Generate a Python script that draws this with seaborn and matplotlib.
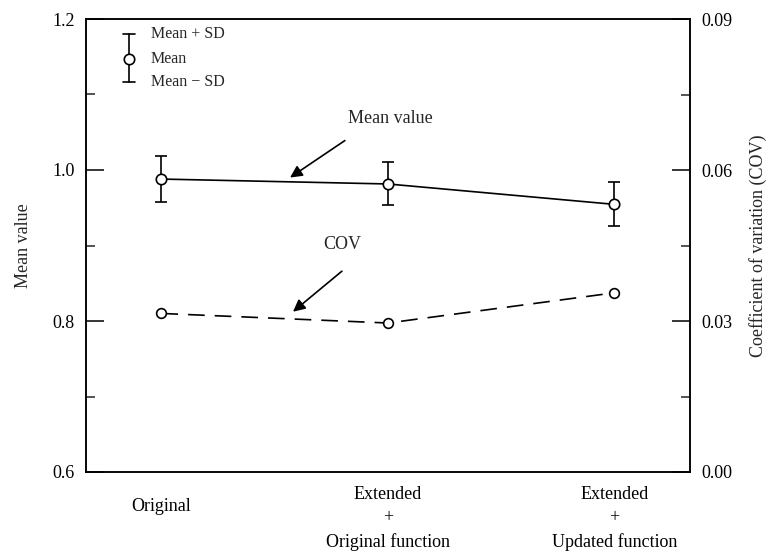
import matplotlib
matplotlib.use("Agg")
import matplotlib.pyplot as plt
import matplotlib.transforms as mtransforms
from matplotlib.lines import Line2D
from matplotlib.ticker import FixedLocator, FormatStrFormatter
import numpy as np
import pandas as pd
import seaborn as sns

# Data
cases = ["Original", "Extended\n+\nOriginal function", "Extended\n+\nUpdated function"]
mean_vals = [0.988, 0.9815, 0.9545]
sd_vals = [0.031, 0.0285, 0.029]
cov_vals = [0.0315, 0.0296, 0.0356]

sns.set_theme(style="white")
plt.rcParams["font.family"] = ["Liberation Serif", "DejaVu Serif"]

df = pd.DataFrame({"pos": np.arange(len(cases)), "mean": mean_vals,
                   "sd": sd_vals, "cov": cov_vals})

fig = plt.figure(figsize=(7.77, 5.58), dpi=100)
ax = fig.add_axes([86 / 777, 86 / 558, 604 / 777, 453 / 558])
ax2 = ax.twinx()

lw = 1.2
# Mean value with SD error bars
ax.errorbar(df["pos"], df["mean"], yerr=df["sd"], fmt="none", ecolor="black",
            elinewidth=lw, capsize=4.5, capthick=lw, zorder=2)
sns.lineplot(data=df, x="pos", y="mean", ax=ax, color="black", lw=lw,
             marker="o", markersize=7.5, markerfacecolor="white",
             markeredgecolor="black", markeredgewidth=lw, zorder=3)

# Coefficient of variation on the secondary axis
sns.lineplot(data=df, x="pos", y="cov", ax=ax2, color="black", lw=lw,
             marker="o", markersize=7, markerfacecolor="white",
             markeredgecolor="black", markeredgewidth=lw, zorder=3)
ax2.lines[0].set_dashes((10, 6))

# Axes limits and ticks
ax.set_xlim(-0.333, 2.334)
ax.set_ylim(0.6, 1.2)
ax2.set_ylim(0.0, 0.09)
ax.set_xticks(df["pos"])
ax.set_xticklabels(cases, fontsize=13, linespacing=1.5)
ax.yaxis.set_major_locator(FixedLocator([0.6, 0.8, 1.0, 1.2]))
ax.yaxis.set_minor_locator(FixedLocator([0.7, 0.9, 1.1]))
ax.yaxis.set_major_formatter(FormatStrFormatter("%.1f"))
ax2.yaxis.set_major_locator(FixedLocator([0.0, 0.03, 0.06, 0.09]))
ax2.yaxis.set_minor_locator(FixedLocator([0.015, 0.045, 0.075]))
ax2.yaxis.set_major_formatter(FormatStrFormatter("%.2f"))

for a in (ax, ax2):
    for s in a.spines.values():
        s.set_color("black")
        s.set_linewidth(1.1)
    a.tick_params(axis="both", which="major", direction="in", length=13.3,
                  width=1.1, labelsize=13, colors="black", pad=8)
    a.tick_params(axis="y", which="minor", direction="in", length=6.5,
                  width=1.1)
ax.tick_params(axis="x", which="major", length=12, pad=10, top=False)
ax2.tick_params(axis="x", which="both", bottom=False, top=False)
ax.tick_params(axis="y", right=False, which="both", left=True)
ax2.tick_params(axis="y", left=False, which="both", right=True)

# Single-line category label sits half a line lower than the stacked ones
lab0 = ax.get_xticklabels()[0]
lab0.set_transform(lab0.get_transform() +
                   mtransforms.ScaledTranslation(0, -9 / 72, fig.dpi_scale_trans))

ax.set_xlabel("")
ax.set_ylabel("Mean value", fontsize=13, labelpad=15)
ax2.set_xlabel("")
ax2.set_ylabel("Coefficient of variation (COV)", fontsize=13, labelpad=12)

# Arrow labels
arrow = dict(arrowstyle="-|>", color="black", lw=1.2, mutation_scale=18,
             shrinkA=0, shrinkB=0)
ax.annotate("", xy=(0.568, 0.990), xytext=(0.810, 1.039), arrowprops=arrow)
ax.text(1.013, 1.068, "Mean value", fontsize=13, ha="center", va="center")
ax.annotate("", xy=(0.581, 0.8123), xytext=(0.797, 0.866), arrowprops=arrow)
ax.text(0.800, 0.9007, "COV", fontsize=13, ha="center", va="center")

# Key for the error bar symbol
kx, ky_top, ky_mid, ky_bot = 0.0717, 0.967, 0.912, 0.862
cap = 0.010
ax.add_line(Line2D([kx, kx], [ky_bot, ky_top], transform=ax.transAxes,
                   color="black", lw=lw, zorder=4))
for yy in (ky_top, ky_bot):
    ax.add_line(Line2D([kx - cap, kx + cap], [yy, yy], transform=ax.transAxes,
                       color="black", lw=lw, zorder=4))
ax.add_line(Line2D([kx], [ky_mid], transform=ax.transAxes, marker="o",
                   markersize=7.5, markerfacecolor="white",
                   markeredgecolor="black", markeredgewidth=lw, zorder=5))
for yy, txt in ((ky_top, "Mean + SD"), (ky_mid, "Mean"), (ky_bot, "Mean − SD")):
    ax.text(0.1076, yy, txt, transform=ax.transAxes, fontsize=11.5,
            ha="left", va="center")

ax.set_zorder(ax2.get_zorder() + 1)
ax.patch.set_visible(False)

fig.savefig("out.png", dpi=100)
